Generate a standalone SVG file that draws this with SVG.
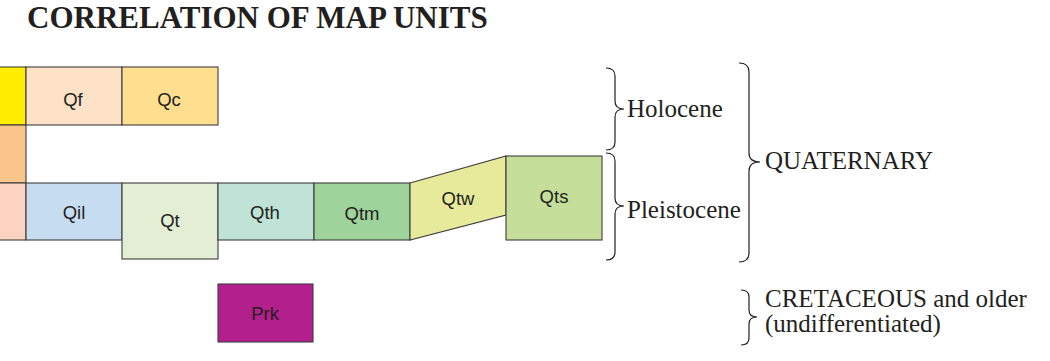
<svg xmlns="http://www.w3.org/2000/svg" width="1050" height="361" viewBox="0 0 1050 361">
<style>
.box{stroke:#3c3c3c;stroke-width:1.1}
.lbl{font-family:"Liberation Sans",Arial,sans-serif;font-size:18.5px;fill:#231F20;text-anchor:middle}
.ser{font-family:"Liberation Serif","Times New Roman",serif;font-size:25px;fill:#231F20}
.brace{fill:none;stroke:#231F20;stroke-width:1.2}
</style>
<rect width="1050" height="361" fill="#ffffff"/>
<text x="27" y="28" font-family="Liberation Serif,'Times New Roman',serif" font-size="31" font-weight="bold" fill="#231F20">CORRELATION OF MAP UNITS</text>

<g id="unit-yellow"><rect class="box" x="-2" y="67" width="28" height="58" fill="#FFED00"/></g>
<g id="unit-orange"><rect class="box" x="-2" y="125" width="28" height="58" fill="#FAC48A"/></g>
<g id="unit-peach"><rect class="box" x="-2" y="183" width="28" height="57" fill="#FCD3C0"/></g>
<g id="Qf"><rect class="box" x="26" y="67" width="96" height="58" fill="#FDE2C8"/><text class="lbl" x="73" y="106">Qf</text></g>
<g id="Qc"><rect class="box" x="122" y="67" width="96" height="58" fill="#FDDF8F"/><text class="lbl" x="169" y="106">Qc</text></g>
<g id="Qil"><rect class="box" x="26" y="183" width="96" height="57" fill="#C6DDF1"/><text class="lbl" x="74" y="219">Qil</text></g>
<g id="Qt"><rect class="box" x="122" y="183" width="96" height="76" fill="#E3EED5"/><text class="lbl" x="170" y="227">Qt</text></g>
<g id="Qth"><rect class="box" x="218" y="183" width="96" height="57" fill="#BFE3D6"/><text class="lbl" x="265" y="219">Qth</text></g>
<g id="Qtm"><rect class="box" x="314" y="183" width="96" height="57" fill="#9ED39B"/><text class="lbl" x="362" y="220">Qtm</text></g>
<g id="Qtw"><polygon class="box" points="410,183 506,156 506,215 410,240" fill="#E7EA9B"/><text class="lbl" x="458" y="205">Qtw</text></g>
<g id="Qts"><rect class="box" x="506" y="156" width="96" height="84" fill="#C5DF9A"/><text class="lbl" x="554" y="203">Qts</text></g>
<g id="Prk"><rect class="box" x="218" y="284" width="95" height="58" fill="#B31F8C"/><text class="lbl" x="265" y="320">Prk</text></g>

<g id="connectors">
<path class="brace" d="M606,68 Q615,68 615,76 L615,101 Q615,109 624,109 Q615,109 615,117 L615,142 Q615,150 606,150"/>
<path class="brace" d="M606,153 Q615,153 615,161 L615,198 Q615,206 624,206 Q615,206 615,214 L615,252 Q615,260 606,260"/>
<path class="brace" d="M739,63 Q749,63 749,72 L749,153 Q749,162 760,162 Q749,162 749,171 L749,253 Q749,262 739,262"/>
<path class="brace" d="M741,290 Q749,290 749,297 L749,310 Q749,317 757,317 Q749,317 749,324 L749,338 Q749,345 741,345"/>
</g>

<g id="labels">
<text class="ser" x="627" y="117">Holocene</text>
<text class="ser" x="627" y="218">Pleistocene</text>
<text class="ser" x="765" y="169">QUATERNARY</text>
<text class="ser" x="765" y="307">CRETACEOUS and older</text>
<text class="ser" x="765" y="332">(undifferentiated)</text>
</g>
</svg>
